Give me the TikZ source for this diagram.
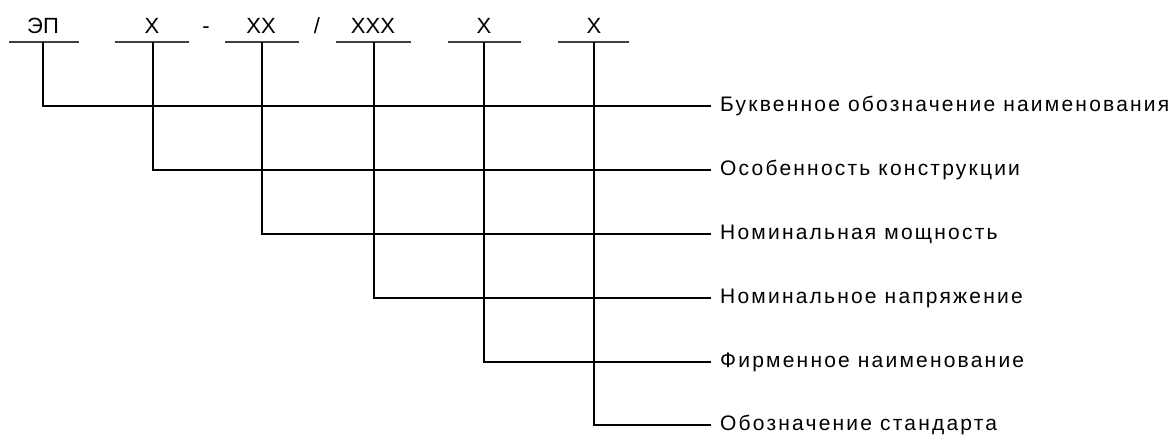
\documentclass[tikz,border=0pt]{standalone}
\usepackage{fontspec}
\usepackage{xcolor}
\usepackage{tikz}
\setmainfont{Liberation Sans}
\newfontfamily\lblfont[LetterSpace=10.5]{Liberation Sans}

\begin{document}
\begin{tikzpicture}[x=1pt,y=1pt]
\tikzstyle{every node}+=[inner sep=0pt]
\tikzstyle{code}=[anchor=base,font=\fontsize{22}{24}\selectfont]
\tikzstyle{lbl}=[anchor=west,inner xsep=9pt,font=\lblfont\fontsize{21}{24}\selectfont]
\tikzstyle{bar}=[draw=black!75,line width=1.6pt]
\tikzstyle{link}=[draw=black,line width=1.2pt]
\useasboundingbox (0,0) rectangle (1174,-437);
% code line
\node [code] (c1) at (43,-33) {ЭП};
\node [code] (c2) at (152,-33) {X};
\node [code] (dash) at (206,-33) {-};
\node [code] (c3) at (261,-33) {XX};
\node [code] (slash) at (317,-33) {/};
\node [code] (c4) at (373,-33) {XXX};
\node [code] (c5) at (484,-33) {X};
\node [code] (c6) at (594,-33) {X};
\coordinate (u1) at (43,-42);
\coordinate (u2) at (153,-42);
\coordinate (u3) at (262,-42);
\coordinate (u4) at (374,-42);
\coordinate (u5) at (484,-42);
\coordinate (u6) at (594,-42);
\draw [bar] (9,-42) -- (79,-42);
\draw [bar] (115,-42) -- (189,-42);
\draw [bar] (225,-42) -- (299,-42);
\draw [bar] (336,-42) -- (411,-42);
\draw [bar] (448,-42) -- (521,-42);
\draw [bar] (558,-42) -- (629,-42);
% meanings
\node [lbl] (l1) at (711,-106) {Буквенное обозначение наименования};
\node [lbl] (l2) at (711,-170) {Особенность конструкции};
\node [lbl] (l3) at (711,-234) {Номинальная мощность};
\node [lbl] (l4) at (711,-298) {Номинальное напряжение};
\node [lbl] (l5) at (711,-362) {Фирменное наименование};
\node [lbl] (l6) at (711,-425) {Обозначение стандарта};
\draw [link] (u1) |- (l1.west);
\draw [link] (u2) |- (l2.west);
\draw [link] (u3) |- (l3.west);
\draw [link] (u4) |- (l4.west);
\draw [link] (u5) |- (l5.west);
\draw [link] (u6) |- (l6.west);
\end{tikzpicture}
\end{document}
